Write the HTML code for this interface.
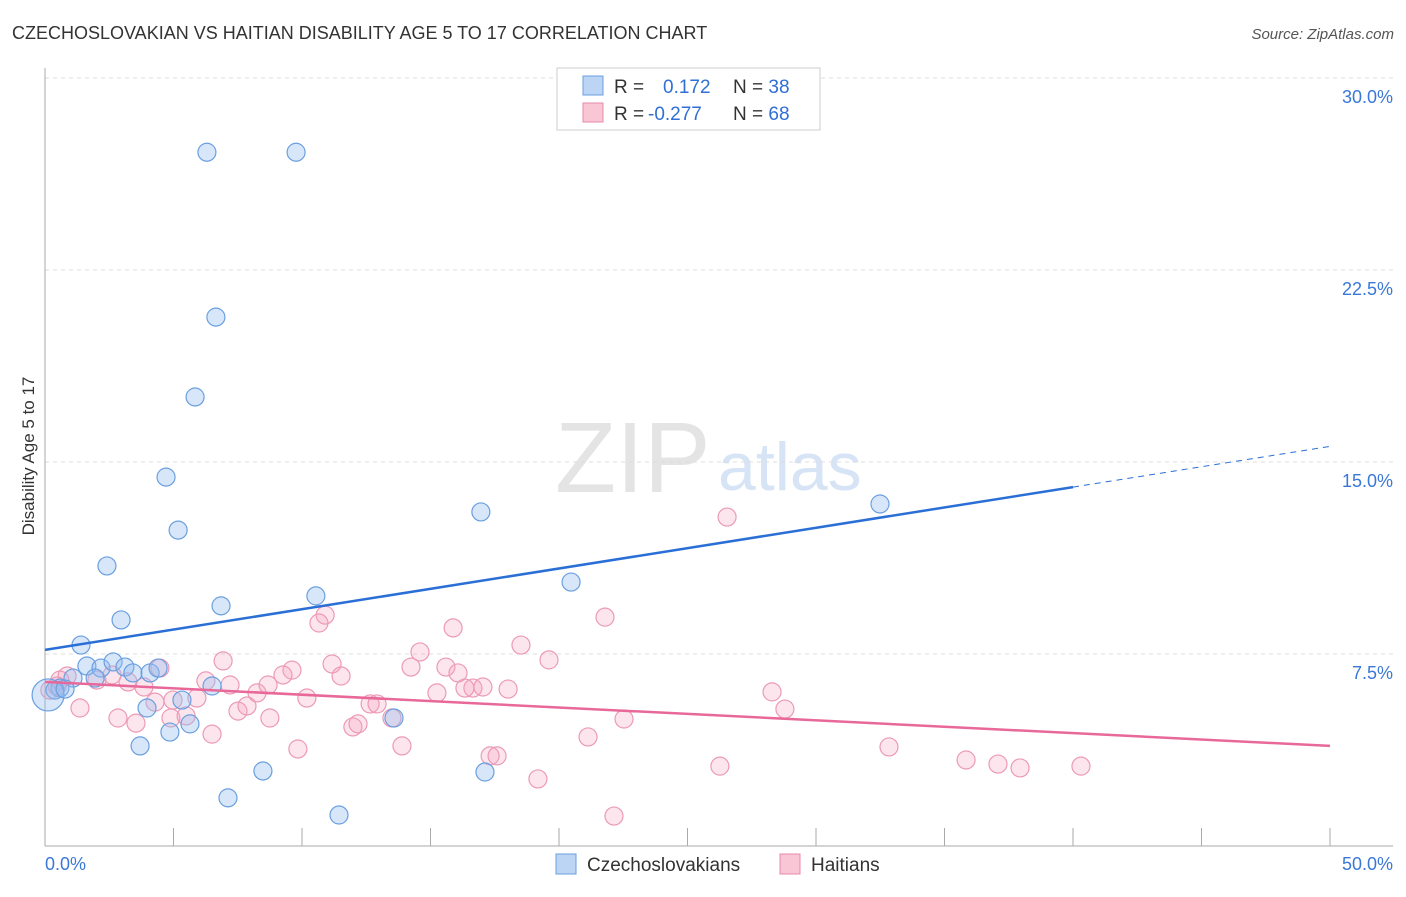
<!DOCTYPE html>
<html><head><meta charset="utf-8"><style>
body{margin:0;background:#fff;font-family:"Liberation Sans",sans-serif}
svg text{font-family:"Liberation Sans",sans-serif}
</style></head><body>
<svg id="c" width="1406" height="892">
<text x="12" y="39" font-size="18" fill="#333">CZECHOSLOVAKIAN VS HAITIAN DISABILITY AGE 5 TO 17 CORRELATION CHART</text>
<text x="1394" y="39" font-size="15" fill="#555" text-anchor="end" font-style="italic">Source: ZipAtlas.com</text>
<text x="0" y="0" transform="translate(34,456) rotate(-90)" font-size="17" fill="#333" text-anchor="middle">Disability Age 5 to 17</text>
<text x="555" y="492" font-size="100" fill="#e4e4e4" font-family="Liberation Serif">ZIP</text>
<text x="718" y="490" font-size="68" fill="#d6e4f6">atlas</text>
<g id="grid"></g><g id="pts"></g><g id="lines"></g>
<g>
<rect x="557" y="68" width="263" height="62" fill="#fff" stroke="#ccc"/>
<rect x="583" y="76" width="20" height="19" fill="#bcd5f5" stroke="#6a9fe0"/>
<rect x="583" y="103" width="20" height="19" fill="#f9c6d6" stroke="#e88aa8"/>
<text x="614" y="93" font-size="19" fill="#333">R = <tspan fill="#2f6fd6" x="663">0.172</tspan><tspan x="733" fill="#333">N = </tspan><tspan fill="#2f6fd6">38</tspan></text>
<text x="614" y="120" font-size="19" fill="#333">R = <tspan fill="#2f6fd6" x="648">-0.277</tspan><tspan x="733" fill="#333">N = </tspan><tspan fill="#2f6fd6">68</tspan></text>
</g>
<g>
<rect x="556" y="854" width="20" height="20" fill="#bcd5f5" stroke="#6a9fe0"/>
<text x="587" y="871" font-size="19" fill="#333">Czechoslovakians</text>
<rect x="780" y="854" width="20" height="20" fill="#f9c6d6" stroke="#e88aa8"/>
<text x="811" y="871" font-size="19" fill="#333">Haitians</text>
</g>
</svg>
<script>
const yTicks=[7.5,15,22.5,30];
const yTickLabels=["7.5%","15.0%","22.5%","30.0%"];
const xTickVals=[0,5,10,15,20,25,30,35,40,45,50];
const blueX=[6.3,9.77,6.65,5.84,4.71,5.18,2.41,2.96,6.85,10.54,16.96,20.47,32.49,1.4,1.63,2.18,2.65,3.11,3.42,4.09,4.4,1.95,1.09,0.58,0.39,0.12,6.5,5.33,3.97,4.86,5.64,3.7,8.48,7.12,11.44,13.58,17.12,0.78];
const blueY=[27.1,27.1,20.66,17.54,14.41,12.34,10.94,8.83,9.38,9.77,13.05,10.31,13.36,7.85,7.03,6.95,7.19,6.99,6.76,6.76,6.95,6.56,6.56,6.17,6.09,5.9,6.25,5.7,5.39,4.45,4.77,3.91,2.93,1.88,1.21,5.0,2.89,6.13];
const pinkX=[26.54,21.79,10.9,10.66,15.88,18.52,19.61,14.59,15.6,14.24,11.17,9.61,9.26,11.52,6.93,6.26,7.2,4.47,3.85,3.23,2.61,2.02,0.86,0.47,0.19,1.36,2.84,3.54,4.28,4.98,4.9,5.91,6.5,7.51,7.86,8.75,8.25,8.68,10.19,9.84,11.98,12.65,12.92,13.5,13.89,15.25,16.07,16.65,17.04,18.02,17.32,17.59,19.18,21.13,22.14,22.53,26.26,28.29,28.79,32.84,35.84,37.08,37.94,40.31,5.49,12.18,16.34,0.58];
const pinkY=[12.85,8.94,9.02,8.71,8.52,7.85,7.27,7.58,6.99,6.99,7.11,6.87,6.68,6.64,7.23,6.45,6.29,6.95,6.21,6.41,6.68,6.48,6.64,6.25,6.09,5.39,5.0,4.8,5.62,5.7,5.0,5.78,4.37,5.27,5.47,5.0,5.98,6.29,5.78,3.79,4.65,5.55,5.55,5.0,3.91,5.98,6.76,6.17,6.21,6.13,3.52,3.52,2.62,4.26,1.17,4.96,3.12,6.02,5.35,3.87,3.36,3.2,3.05,3.12,5.08,4.77,6.17,6.48];
const blueFit=[7.66,0.159]; // intercept, slope
const pinkFit=[6.41,-0.05];
const X=v=>45+v/50*1285, Y=v=>846-v*25.6;
const NS="http://www.w3.org/2000/svg";
function mk(t,a,p){const e=document.createElementNS(NS,t);for(const k in a)e.setAttribute(k,a[k]);p.appendChild(e);return e;}
const g=document.getElementById('grid');
yTicks.forEach((v,i)=>{
 const l=mk('line',{x1:45,x2:1393,y1:Y(v),y2:Y(v),stroke:'#ddd','stroke-dasharray':'4,4'},g);
 
 
 const t=mk('text',{x:1393,y:Y(v)+25,'font-size':18,fill:'#3a78d8','text-anchor':'end'},g);t.textContent=yTickLabels[i];
 
 
});
const ax=mk('line',{x1:45,x2:45,y1:68,y2:846,stroke:'#aaa'},g);


const bx=mk('line',{x1:45,x2:1393,y1:846,y2:846,stroke:'#aaa'},g);


xTickVals.forEach(v=>{const t=mk('line',{x1:X(v),x2:X(v),y1:828,y2:846,stroke:'#aaa'},g);
 
 });
[[0,'0.0%','start',45],[50,'50.0%','end',1393]].forEach(a=>{const t=mk('text',{x:a[3],y:870,'font-size':18,fill:'#3a78d8','text-anchor':a[2]},g);t.textContent=a[1];
 
 });
const p=document.getElementById('pts');
pinkX.forEach((v,i)=>{const c=mk('circle',{cx:X(v),cy:Y(pinkY[i]),r:9,fill:'rgba(244,160,190,0.28)',stroke:'#ec9ab5','stroke-width':1.2},p);
 
 });
blueX.forEach((v,i)=>{const c=mk('circle',{cx:X(v),cy:Y(blueY[i]),r:i==25?16:9,fill:'rgba(150,190,240,0.38)',stroke:'#6a9fe0','stroke-width':1.2},p);
 
 });
const L=document.getElementById('lines');
const b1=mk('line',{x1:X(0),y1:Y(blueFit[0]),x2:X(40),y2:Y(blueFit[0]+40*blueFit[1]),stroke:'#2a6fd6','stroke-width':2.5},L);


const b2=mk('line',{x1:X(40),y1:Y(blueFit[0]+40*blueFit[1]),x2:X(50),y2:Y(blueFit[0]+50*blueFit[1]),stroke:'#2a6fd6','stroke-width':1,'stroke-dasharray':'6,5'},L);


const p1=mk('line',{x1:X(0),y1:Y(pinkFit[0]),x2:X(50),y2:Y(pinkFit[0]+50*pinkFit[1]),stroke:'#e8689a','stroke-width':2.5},L);


</script>
</body></html>
